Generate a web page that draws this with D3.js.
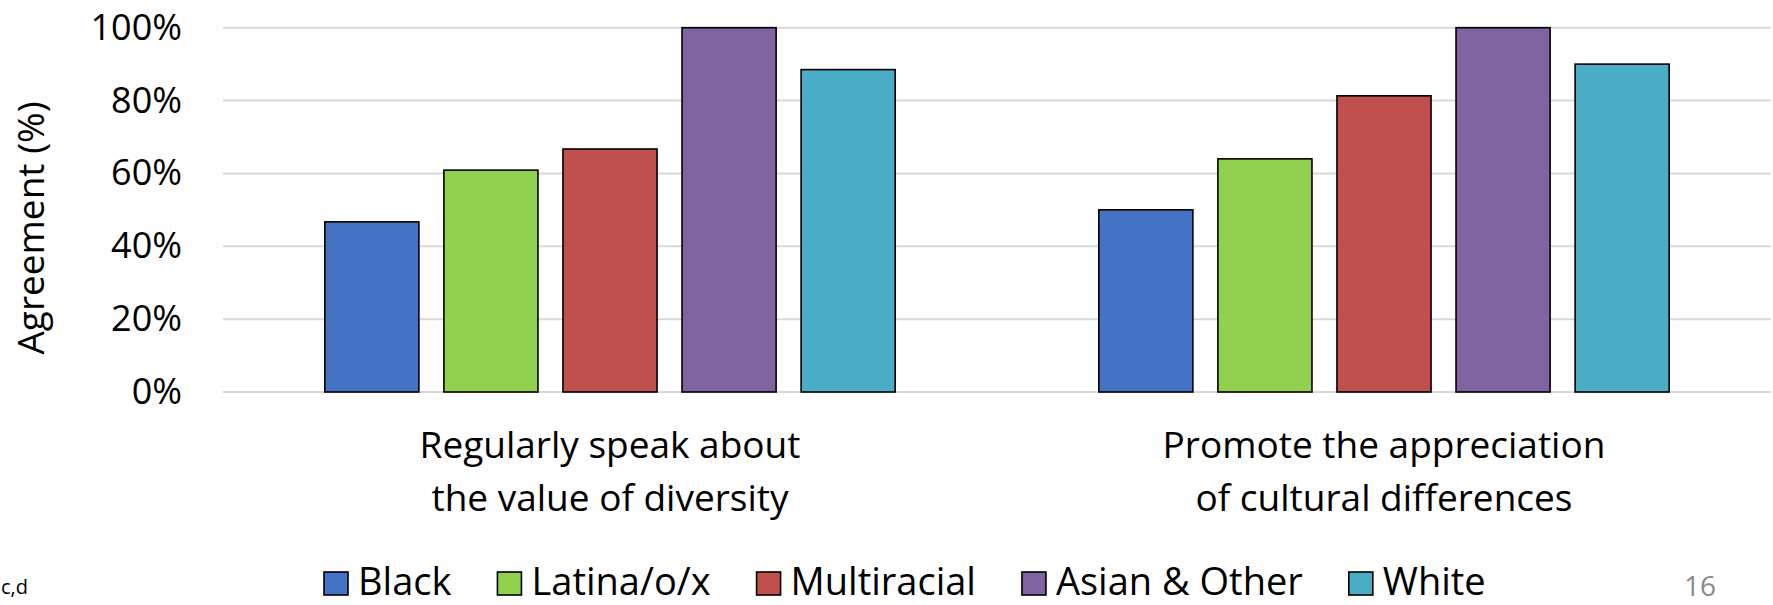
<!DOCTYPE html>
<html>
<head>
<meta charset="utf-8">
<script src="https://cdn.jsdelivr.net/npm/d3@7"></script>
<style>
  body { margin: 0; background: #fff; }
  svg { display: block; font-family: 'Open Sans', sans-serif; }
</style>
</head>
<body>
<svg id="drawing_region"></svg>
<script>
// chart data
const categories = [
    ['Regularly speak about', 'the value of diversity'],
    ['Promote the appreciation', 'of cultural differences']
];
const series = ['Black', 'Latina/o/x', 'Multiracial', 'Asian & Other', 'White'];
const colors = ['#4472C4', '#92D050', '#C0504D', '#8064A2', '#4BACC6'];
const values = [
    [46.7, 60.9, 66.7, 100, 88.5],
    [50.0, 64.0, 81.3, 100, 90.0]
];
const y_ticks = [0, 20, 40, 60, 80, 100];

class GroupedBar {

    constructor( config ) {
        this.config = config;
        this.init();
    }

    init() {
        let self = this;
        const c = self.config;

        self.svg = d3.select( c.parent )
            .attr('width', c.width)
            .attr('height', c.height);

        self.x0 = d3.scaleBand()
            .domain( d3.range(categories.length) )
            .range( [c.left, c.right] )
            .padding(0);

        self.x1 = d3.scaleBand()
            .domain( series )
            .range( [0, self.x0.bandwidth()] )
            .paddingInner(0.21)
            .paddingOuter(0.855);

        self.y = d3.scaleLinear()
            .domain( [0, 100] )
            .range( [c.bottom, c.top] );
    }

    render() {
        let self = this;
        const c = self.config;

        // grid
        self.svg.append('g')
            .selectAll('line')
            .data(y_ticks)
            .join('line')
            .attr('x1', c.left)
            .attr('x2', c.right)
            .attr('y1', d => self.y(d))
            .attr('y2', d => self.y(d))
            .attr('stroke', '#d9d9d9')
            .attr('stroke-width', 2);

        // y axis labels
        const yaxis = d3.axisLeft( self.y )
            .tickValues(y_ticks)
            .tickFormat(d => d + '%')
            .tickSize(0)
            .tickPadding(0);

        const yg = self.svg.append('g')
            .attr('transform', `translate(${c.tick_x}, 0)`)
            .call(yaxis);
        yg.select('.domain').remove();
        yg.selectAll('text')
            .attr('font-family', "'Open Sans', sans-serif")
            .attr('font-size', 36)
            .attr('fill', '#000');

        self.svg.append('text')
            .attr('transform', `translate(${c.title_x}, ${c.title_y}) rotate(-90)`)
            .attr('text-anchor', 'middle')
            .attr('font-size', 37)
            .text('Agreement (%)');

        // bars
        const groups = self.svg.append('g')
            .selectAll('g')
            .data(values)
            .join('g')
            .attr('transform', (d, i) => `translate(${self.x0(i)}, 0)`);

        groups.selectAll('rect')
            .data(d => d.map((v, j) => ({ name: series[j], value: v, color: colors[j] })))
            .join('rect')
            .attr('x', d => self.x1(d.name))
            .attr('width', self.x1.bandwidth())
            .attr('y', d => self.y(d.value))
            .attr('height', d => self.y(0) - self.y(d.value))
            .attr('fill', d => d.color)
            .attr('stroke', '#000')
            .attr('stroke-width', 1.6);

        // category labels
        const cat = self.svg.append('g')
            .selectAll('text')
            .data(categories)
            .join('text')
            .attr('x', (d, i) => self.x0(i) + self.x0.bandwidth() / 2)
            .attr('y', c.cat_y)
            .attr('text-anchor', 'middle')
            .attr('font-size', 37);
        cat.selectAll('tspan')
            .data(d => d)
            .join('tspan')
            .attr('x', function() { return d3.select(this.parentNode).attr('x'); })
            .attr('dy', (d, i) => i === 0 ? 0 : c.cat_line)
            .text(d => d);

        // legend
        const legend = self.svg.append('g')
            .attr('transform', `translate(${c.legend_x}, ${c.legend_y})`);
        let lx = 0;
        series.forEach((s, j) => {
            legend.append('rect')
                .attr('x', lx)
                .attr('y', -23)
                .attr('width', 24)
                .attr('height', 23)
                .attr('fill', colors[j])
                .attr('stroke', '#000')
                .attr('stroke-width', 1.6);
            const t = legend.append('text')
                .attr('x', lx + 34)
                .attr('y', 0)
                .attr('font-size', 38)
                .text(s);
            lx += 34 + t.node().getComputedTextLength() + 46;
        });

        // footer bits
        self.svg.append('text')
            .attr('x', 1)
            .attr('y', 594)
            .attr('font-size', 20)
            .text('c,d');

        self.svg.append('text')
            .attr('x', 1684)
            .attr('y', 596)
            .attr('font-size', 28)
            .attr('fill', '#898989')
            .text('16');
    }
}

const chart = new GroupedBar({
    parent: '#drawing_region',
    width: 1773,
    height: 605,
    left: 223,
    right: 1771,
    top: 27.7,
    bottom: 392,
    tick_x: 182,
    title_x: 44,
    title_y: 228,
    cat_y: 458,
    cat_line: 53,
    legend_x: 324,
    legend_y: 595
});
chart.render();
</script>
</body>
</html>
